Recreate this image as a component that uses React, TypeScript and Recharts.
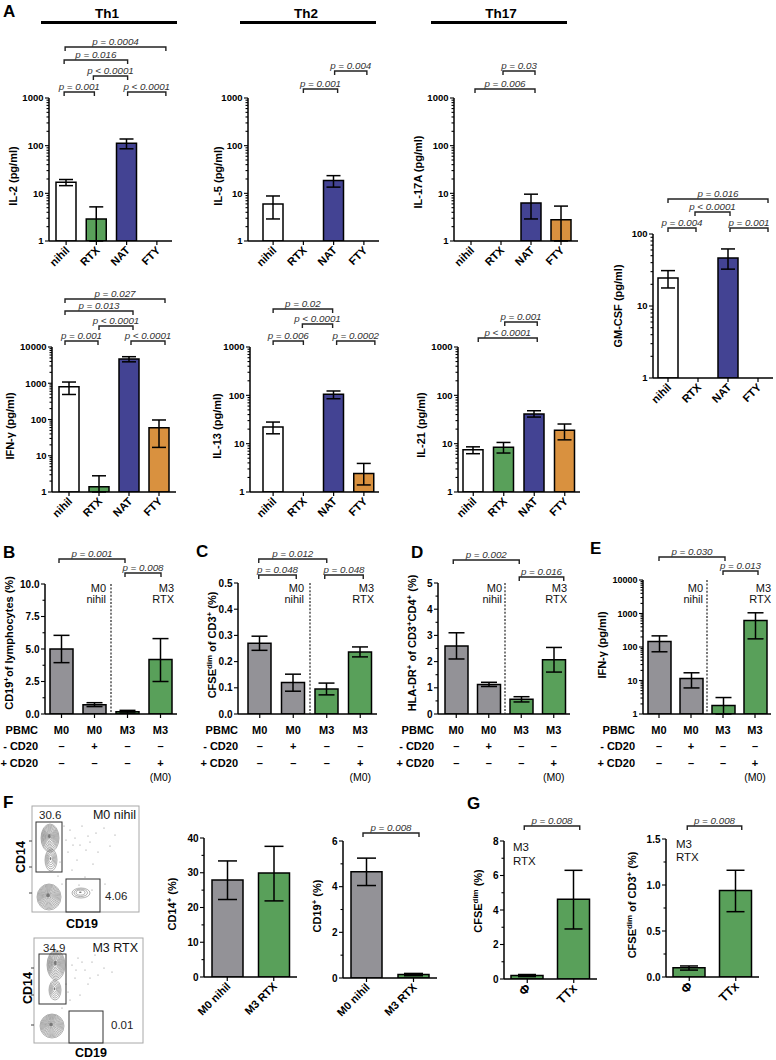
import React from 'react';
import { BarChart, Bar, XAxis, YAxis, ErrorBar, Cell } from 'recharts';

const FONT = '"Liberation Sans", Arial, Helvetica, sans-serif';
const C_WHITE = '#ffffff';
const C_GREEN = '#59a05a';
const C_NAVY = '#434393';
const C_ORANGE = '#d9913f';
const C_GRAY = '#939297';

// ---------- Panel A data ----------
const cytoCategories = ['nihil', 'RTX', 'NAT', 'FTY'];
const cytoColors = [C_WHITE, C_GREEN, C_NAVY, C_ORANGE];

const il2Mean = [17, 2.9, 112, null];
const il2Low = [14.5, 1, 86, null];
const il2High = [19.5, 5.2, 138, null];

const il5Mean = [6, null, 18.5, null];
const il5Low = [2.9, null, 13.5, null];
const il5High = [8.8, null, 23.5, null];

const il17Mean = [null, null, 6.3, 2.8];
const il17Low = [null, null, 2.9, 1];
const il17High = [null, null, 9.6, 5.4];

const gmcsfMean = [24.5, null, 46.5, null];
const gmcsfLow = [17.8, null, 32.5, null];
const gmcsfHigh = [31, null, 62, null];

const ifngMean = [800, 1.4, 4700, 59];
const ifngLow = [490, 1, 3900, 17];
const ifngHigh = [1080, 2.8, 5400, 97];

const il13Mean = [22, null, 105, 2.4];
const il13Low = [16, null, 85, 1.4];
const il13High = [28, null, 123, 3.9];

const il21Mean = [7.5, 8.4, 41, 19];
const il21Low = [6.2, 6.4, 35.5, 12];
const il21High = [8.6, 10.6, 48, 25.5];

// ---------- Panels B-E data ----------
const pbmcCategories = ['M0 a', 'M0 b', 'M3 a', 'M3 b'];
const pbmcColors = [C_GRAY, C_GRAY, C_GREEN, C_GREEN];
const pbmcRow = ['M0', 'M0', 'M3', 'M3'];
const minusCd20Row = ['–', '+', '–', '–'];
const plusCd20Row = ['–', '–', '–', '+'];
const plusNoteRow = ['', '', '', '(M0)'];

const cd19Mean = [5.0, 0.72, 0.18, 4.2];
const cd19Low = [3.95, 0.57, 0.08, 2.5];
const cd19High = [6.05, 0.87, 0.28, 5.8];

const cfseMean = [0.27, 0.12, 0.095, 0.237];
const cfseLow = [0.243, 0.087, 0.073, 0.218];
const cfseHigh = [0.297, 0.152, 0.118, 0.256];

const hladrMean = [2.6, 1.13, 0.56, 2.07];
const hladrLow = [2.1, 1.05, 0.46, 1.6];
const hladrHigh = [3.1, 1.21, 0.66, 2.54];

const ifngEMean = [145, 11.5, 1.8, 620];
const ifngELow = [72, 6, 1, 175];
const ifngEHigh = [215, 17, 3.1, 1050];

// ---------- Panel F data ----------
const fCategories = ['M0 nihil', 'M3 RTX'];
const fColors = [C_GRAY, C_GREEN];
const cd14Mean = [27.9, 29.9];
const cd14Low = [22.3, 21.9];
const cd14High = [33.4, 37.6];
const cd19fMean = [4.65, 0.15];
const cd19fLow = [4.05, 0.1];
const cd19fHigh = [5.25, 0.2];
const flowGateLabels = ['30.6', '4.06', '34.9', '0.01'];
const flowTitles = ['M0 nihil', 'M3 RTX'];

// ---------- Panel G data ----------
const gCategories = ['Φ', 'TTx'];
const gColors = [C_GREEN, C_GREEN];
const cfseDimMean = [0.2, 4.62];
const cfseDimLow = [0.14, 2.9];
const cfseDimHigh = [0.26, 6.3];
const cfseCd3Mean = [0.1, 0.94];
const cfseCd3Low = [0.075, 0.71];
const cfseCd3High = [0.12, 1.16];

// ---------- tick sets ----------
const logMinors = (maxExp: number) => {
  const out: number[] = [];
  for (let e = 0; e < maxExp; e++) for (let k = 2; k <= 9; k++) out.push(k * Math.pow(10, e));
  return out;
};
const LOG2_MAJ = [1, 10, 100];
const LOG3_MAJ = [1, 10, 100, 1000];
const LOG4_MAJ = [1, 10, 100, 1000, 10000];
const intFmt = (v: number) => String(Math.round(v));
const oneFmt = (v: number) => v.toFixed(1);

type Num = number | null;
interface ChartSpec {
  key: string;
  plotLeft: number; plotRight: number; plotTop: number; plotBottom: number;
  padL: number; padR: number;
  cats: string[]; colors: string[];
  mean: Num[]; low: Num[]; high: Num[];
  log: boolean; domain: [number, number];
  majors: number[]; minors: number[];
  fmt: (v: number) => string;
  barSize: number; cap: number;
  xMode: 'rot' | 'tick';
  tickFs: number; xFs: number;
}

const charts: ChartSpec[] = [
  { key: 'il2', plotLeft: 49, plotRight: 172, plotTop: 98, plotBottom: 241, padL: 2, padR: 0, cats: cytoCategories, colors: cytoColors, mean: il2Mean, low: il2Low, high: il2High, log: true, domain: [1, 1000], majors: LOG3_MAJ, minors: logMinors(3), fmt: intFmt, barSize: 20, cap: 7, xMode: 'rot', tickFs: 9.5, xFs: 11 },
  { key: 'il5', plotLeft: 248, plotRight: 379, plotTop: 98, plotBottom: 241, padL: 10, padR: 0, cats: cytoCategories, colors: cytoColors, mean: il5Mean, low: il5Low, high: il5High, log: true, domain: [1, 1000], majors: LOG3_MAJ, minors: logMinors(3), fmt: intFmt, barSize: 20, cap: 7, xMode: 'rot', tickFs: 9.5, xFs: 11 },
  { key: 'il17', plotLeft: 454, plotRight: 578, plotTop: 98, plotBottom: 241, padL: 2, padR: 2, cats: cytoCategories, colors: cytoColors, mean: il17Mean, low: il17Low, high: il17High, log: true, domain: [1, 1000], majors: LOG3_MAJ, minors: logMinors(3), fmt: intFmt, barSize: 20, cap: 7, xMode: 'rot', tickFs: 9.5, xFs: 11 },
  { key: 'gmcsf', plotLeft: 653, plotRight: 773, plotTop: 234, plotBottom: 378, padL: 0, padR: 0, cats: cytoCategories, colors: cytoColors, mean: gmcsfMean, low: gmcsfLow, high: gmcsfHigh, log: true, domain: [1, 100], majors: LOG2_MAJ, minors: logMinors(2), fmt: intFmt, barSize: 20, cap: 7, xMode: 'rot', tickFs: 9.5, xFs: 11 },
  { key: 'ifng', plotLeft: 52, plotRight: 176, plotTop: 347, plotBottom: 492, padL: 2, padR: 2, cats: cytoCategories, colors: cytoColors, mean: ifngMean, low: ifngLow, high: ifngHigh, log: true, domain: [1, 10000], majors: LOG4_MAJ, minors: logMinors(4), fmt: intFmt, barSize: 20, cap: 7, xMode: 'rot', tickFs: 9.5, xFs: 11 },
  { key: 'il13', plotLeft: 250, plotRight: 379, plotTop: 347, plotBottom: 492, padL: 8, padR: 0, cats: cytoCategories, colors: cytoColors, mean: il13Mean, low: il13Low, high: il13High, log: true, domain: [1, 1000], majors: LOG3_MAJ, minors: logMinors(3), fmt: intFmt, barSize: 20, cap: 7, xMode: 'rot', tickFs: 9.5, xFs: 11 },
  { key: 'il21', plotLeft: 458, plotRight: 580, plotTop: 347, plotBottom: 492, padL: 0, padR: 0, cats: cytoCategories, colors: cytoColors, mean: il21Mean, low: il21Low, high: il21High, log: true, domain: [1, 1000], majors: LOG3_MAJ, minors: logMinors(3), fmt: intFmt, barSize: 20, cap: 7, xMode: 'rot', tickFs: 9.5, xFs: 11 },
  { key: 'b', plotLeft: 45, plotRight: 177, plotTop: 584, plotBottom: 714, padL: 0, padR: 0, cats: pbmcCategories, colors: pbmcColors, mean: cd19Mean, low: cd19Low, high: cd19High, log: false, domain: [0, 10], majors: [0, 2.5, 5, 7.5, 10], minors: [1.25, 3.75, 6.25, 8.75], fmt: oneFmt, barSize: 23, cap: 8, xMode: 'tick', tickFs: 10, xFs: 11 },
  { key: 'c', plotLeft: 238, plotRight: 377, plotTop: 583, plotBottom: 714, padL: 5, padR: 0, cats: pbmcCategories, colors: pbmcColors, mean: cfseMean, low: cfseLow, high: cfseHigh, log: false, domain: [0, 0.5], majors: [0, 0.1, 0.2, 0.3, 0.4, 0.5], minors: [], fmt: oneFmt, barSize: 23, cap: 8, xMode: 'tick', tickFs: 10, xFs: 11 },
  { key: 'd', plotLeft: 438, plotRight: 570, plotTop: 583, plotBottom: 714, padL: 2, padR: 0, cats: pbmcCategories, colors: pbmcColors, mean: hladrMean, low: hladrLow, high: hladrHigh, log: false, domain: [0, 5], majors: [0, 1, 2, 3, 4, 5], minors: [0.5, 1.5, 2.5, 3.5, 4.5], fmt: intFmt, barSize: 23, cap: 8, xMode: 'tick', tickFs: 10, xFs: 11 },
  { key: 'e', plotLeft: 643, plotRight: 771, plotTop: 580, plotBottom: 714, padL: 0, padR: 0, cats: pbmcCategories, colors: pbmcColors, mean: ifngEMean, low: ifngELow, high: ifngEHigh, log: true, domain: [1, 10000], majors: LOG4_MAJ, minors: logMinors(4), fmt: intFmt, barSize: 23, cap: 8, xMode: 'tick', tickFs: 9, xFs: 11 },
  { key: 'f1', plotLeft: 204, plotRight: 297, plotTop: 838, plotBottom: 977, padL: 0, padR: 0, cats: fCategories, colors: fColors, mean: cd14Mean, low: cd14Low, high: cd14High, log: false, domain: [0, 40], majors: [0, 10, 20, 30, 40], minors: [5, 15, 25, 35], fmt: intFmt, barSize: 31, cap: 9.5, xMode: 'rot', tickFs: 10, xFs: 11 },
  { key: 'f2', plotLeft: 343, plotRight: 437, plotTop: 841, plotBottom: 978, padL: 0, padR: 0, cats: fCategories, colors: fColors, mean: cd19fMean, low: cd19fLow, high: cd19fHigh, log: false, domain: [0, 6], majors: [0, 2, 4, 6], minors: [1, 3, 5], fmt: intFmt, barSize: 31, cap: 9.5, xMode: 'rot', tickFs: 10, xFs: 11 },
  { key: 'g1', plotLeft: 504, plotRight: 597, plotTop: 841, plotBottom: 979, padL: 0, padR: 0, cats: gCategories, colors: gColors, mean: cfseDimMean, low: cfseDimLow, high: cfseDimHigh, log: false, domain: [0, 8], majors: [0, 2, 4, 6, 8], minors: [1, 3, 5, 7], fmt: intFmt, barSize: 32, cap: 9, xMode: 'rot', tickFs: 10, xFs: 12.5 },
  { key: 'g2', plotLeft: 666, plotRight: 759, plotTop: 839, plotBottom: 977, padL: 0, padR: 0, cats: gCategories, colors: gColors, mean: cfseCd3Mean, low: cfseCd3Low, high: cfseCd3High, log: false, domain: [0, 1.5], majors: [0, 0.5, 1, 1.5], minors: [0.25, 0.75, 1.25], fmt: oneFmt, barSize: 32, cap: 9, xMode: 'rot', tickFs: 10, xFs: 12.5 },
];
const chartByKey: Record<string, ChartSpec> = {};
charts.forEach((c) => { chartByKey[c.key] = c; });

const YW = 46, MT = 6, MR = 6, XH = 56;

function catX(s: ChartSpec, i: number) {
  const w = s.plotRight - s.plotLeft - s.padL - s.padR;
  return s.plotLeft + s.padL + (w / s.cats.length) * (i + 0.5);
}

const makeYTick = (s: ChartSpec) => (props: any) => {
  const { x, y, payload } = props;
  const v = payload.value;
  const isMajor = s.majors.some((m) => Math.abs(m - v) < 1e-9);
  const len = isMajor ? 4 : 2.5;
  return (
    <g>
      <line x1={x} x2={x - len} y1={y} y2={y} stroke="#000" strokeWidth={1.1} />
      {isMajor && (
        <text x={x - 5.5} y={y} dy="0.36em" textAnchor="end" fontFamily={FONT} fontWeight="bold" fontSize={s.tickFs} fill="#000">
          {s.fmt(v)}
        </text>
      )}
    </g>
  );
};

const makeXTick = (s: ChartSpec) => (props: any) => {
  const { x, y, payload } = props;
  const ax = x + 4;
  const ay = y + 10;
  return (
    <g>
      <line x1={x} x2={x} y1={y} y2={y + 4} stroke="#000" strokeWidth={1.2} />
      {s.xMode === 'rot' && (
        <text x={ax} y={ay} transform={`rotate(-45 ${ax} ${ay})`} textAnchor="end" fontFamily={FONT} fontWeight="bold" fontSize={s.xFs} fill="#000">
          {payload.value}
        </text>
      )}
    </g>
  );
};

function SmallBarChart({ s }: { s: ChartSpec }) {
  const width = s.plotRight - s.plotLeft + YW + MR;
  const height = s.plotBottom - s.plotTop + MT + XH;
  const data = s.cats.map((c, i) => {
    const m = s.mean[i];
    const lo = s.low[i];
    const hi = s.high[i];
    return { cat: c, v: m, err: m == null || lo == null || hi == null ? null : [m - lo, hi - m] };
  });
  const ticks = [...s.majors, ...s.minors].sort((a, b) => a - b);
  return (
    <div style={{ position: 'absolute', left: s.plotLeft - YW, top: s.plotTop - MT }}>
      <BarChart width={width} height={height} data={data} margin={{ top: MT, right: MR, left: 0, bottom: 0 }} barCategoryGap={0}>
        <XAxis dataKey="cat" type="category" height={XH} padding={{ left: s.padL, right: s.padR }} axisLine={{ stroke: '#000', strokeWidth: 1.5 }} tickLine={false} tickSize={0} tickMargin={0} interval={0} tick={makeXTick(s)} />
        <YAxis width={YW} type="number" scale={s.log ? 'log' : 'linear'} domain={s.domain} allowDataOverflow ticks={ticks} interval={0} axisLine={{ stroke: '#000', strokeWidth: 1.5 }} tickLine={false} tickSize={0} tickMargin={0} tick={makeYTick(s)} />
        <Bar dataKey="v" barSize={s.barSize} stroke="#000" strokeWidth={1.5} isAnimationActive={false}>
          {data.map((d, i) => (
            <Cell key={i} fill={s.colors[i]} />
          ))}
          <ErrorBar dataKey="err" width={s.cap} stroke="#000" strokeWidth={1.5} direction="y" isAnimationActive={false} />
        </Bar>
      </BarChart>
    </div>
  );
}

// ---------- annotations ----------
const brackets = [
  { c: 'il2', a: 0, b: 3, da: -1, db: 9, y: 47, t: 'p = 0.0004' },
  { c: 'il2', a: 0, b: 2, da: -2, db: 1, y: 60, t: 'p = 0.016' },
  { c: 'il2', a: 1, b: 2, da: -3, db: 1, y: 76, t: 'p < 0.0001' },
  { c: 'il2', a: 0, b: 1, da: -2, db: -2, y: 92, t: 'p = 0.001' },
  { c: 'il2', a: 2, b: 3, da: 1, db: 9, y: 92, t: 'p < 0.0001' },
  { c: 'il5', a: 1, b: 2, da: 0, db: 4, y: 89, t: 'p = 0.001' },
  { c: 'il5', a: 2, b: 3, da: 1, db: 3, y: 71, t: 'p = 0.004' },
  { c: 'il17', a: 0, b: 2, da: 4, db: 4, y: 89, t: 'p = 0.006' },
  { c: 'il17', a: 1, b: 2, da: 2, db: 4, y: 71, t: 'p = 0.03' },
  { c: 'gmcsf', a: 0, b: 3, da: 0, db: 10, y: 199, t: 'p = 0.016' },
  { c: 'gmcsf', a: 1, b: 2, da: -3, db: 2, y: 212, t: 'p < 0.0001' },
  { c: 'gmcsf', a: 0, b: 1, da: 0, db: -2, y: 228, t: 'p = 0.004' },
  { c: 'gmcsf', a: 2, b: 3, da: 2, db: 10, y: 228, t: 'p = 0.001' },
  { c: 'ifng', a: 0, b: 3, da: -4, db: 6, y: 299, t: 'p = 0.027' },
  { c: 'ifng', a: 0, b: 2, da: -4, db: 4, y: 311, t: 'p = 0.013' },
  { c: 'ifng', a: 1, b: 2, da: 0, db: 4, y: 326, t: 'p < 0.0001' },
  { c: 'ifng', a: 0, b: 1, da: -4, db: -1, y: 341, t: 'p = 0.001' },
  { c: 'ifng', a: 2, b: 3, da: 2, db: 6, y: 341, t: 'p < 0.0001' },
  { c: 'il13', a: 0, b: 2, da: 0, db: -1, y: 309, t: 'p = 0.02' },
  { c: 'il13', a: 1, b: 2, da: -1, db: -1, y: 324, t: 'p < 0.0001' },
  { c: 'il13', a: 0, b: 1, da: 0, db: 0, y: 341, t: 'p = 0.006' },
  { c: 'il13', a: 2, b: 3, da: 3, db: 11, y: 341, t: 'p = 0.0002' },
  { c: 'il21', a: 1, b: 2, da: 1, db: 3, y: 322, t: 'p = 0.001' },
  { c: 'il21', a: 0, b: 2, da: 5, db: 3, y: 338, t: 'p < 0.0001' },
  { c: 'b', a: 0, b: 2, da: -2.5, db: -2.5, y: 559, t: 'p = 0.001' },
  { c: 'b', a: 2, b: 3, da: -2.5, db: 0.5, y: 573, t: 'p = 0.008' },
  { c: 'c', a: 0, b: 2, da: -1, db: 0, y: 559, t: 'p = 0.012' },
  { c: 'c', a: 0, b: 1, da: -1, db: 3, y: 575, t: 'p = 0.048' },
  { c: 'c', a: 2, b: 3, da: -2, db: 3, y: 575, t: 'p = 0.048' },
  { c: 'd', a: 0, b: 2, da: -3, db: -2, y: 560, t: 'p = 0.002' },
  { c: 'd', a: 2, b: 3, da: -2, db: 10, y: 577, t: 'p = 0.016' },
  { c: 'e', a: 0, b: 2, da: 0, db: 2, y: 557, t: 'p = 0.030' },
  { c: 'e', a: 2, b: 3, da: 0, db: 3, y: 571, t: 'p = 0.013' },
  { c: 'f2', a: 0, b: 1, da: -3.5, db: 5.5, y: 833, t: 'p = 0.008' },
  { c: 'g1', a: 0, b: 1, da: -3, db: 6, y: 826, t: 'p = 0.008' },
  { c: 'g2', a: 0, b: 1, da: -2, db: 6, y: 826, t: 'p = 0.008' },
];

type Part = [string, boolean?];
const yLabels: { x: number; y: number; parts: Part[]; fs?: number }[] = [
  { x: 13, y: 176, parts: [['IL-2 (pg/ml)']] },
  { x: 218, y: 176, parts: [['IL-5 (pg/ml)']] },
  { x: 418, y: 172, parts: [['IL-17A (pg/ml)']] },
  { x: 618, y: 306, parts: [['GM-CSF (pg/ml)']] },
  { x: 10, y: 426, parts: [['IFN-γ (pg/ml)']] },
  { x: 217, y: 426, parts: [['IL-13 (pg/ml)']] },
  { x: 421, y: 425, parts: [['IL-21 (pg/ml)']] },
  { x: 9, y: 643, parts: [['CD19'], ['+', true], ['of lymphocytes (%)']] },
  { x: 212, y: 645, parts: [['CFSE'], ['dim', true], [' of CD3'], ['+', true], [' (%)']] },
  { x: 412, y: 643, parts: [['HLA-DR'], ['+', true], [' of CD3'], ['+', true], ['CD4'], ['+', true], [' (%)']] },
  { x: 602, y: 645, parts: [['IFN-γ (pg/ml)']] },
  { x: 172, y: 904, parts: [['CD14'], ['+', true], [' (%)']] },
  { x: 317, y: 906, parts: [['CD19'], ['+', true], [' (%)']] },
  { x: 478, y: 901, parts: [['CFSE'], ['dim', true], [' (%)']] },
  { x: 632, y: 905, parts: [['CFSE'], ['dim', true], [' of CD3'], ['+', true], [' (%)']] },
];

const panelLetters = [
  { t: 'A', x: 3, y: 17 },
  { t: 'B', x: 3, y: 558 },
  { t: 'C', x: 196, y: 557 },
  { t: 'D', x: 411, y: 558 },
  { t: 'E', x: 590, y: 554 },
  { t: 'F', x: 3, y: 808 },
  { t: 'G', x: 467, y: 809 },
];

const groupHeaders = [
  { t: 'Th1', cx: 107, x1: 41, x2: 177 },
  { t: 'Th2', cx: 306, x1: 240, x2: 376 },
  { t: 'Th17', cx: 501, x1: 431, x2: 567 },
];

const pbmcPanels = [
  { c: 'b', tableRight: 38, nihilRight: 106, rtxRight: 174 },
  { c: 'c', tableRight: 238, nihilRight: 304, rtxRight: 374 },
  { c: 'd', tableRight: 434, nihilRight: 502, rtxRight: 567 },
  { c: 'e', tableRight: 635, nihilRight: 703, rtxRight: 771 },
];

function YLabel({ x, y, parts, fs = 11 }: { x: number; y: number; parts: Part[]; fs?: number }) {
  const nodes: React.ReactNode[] = [];
  let prevSup = false;
  parts.forEach(([t, sup], i) => {
    if (sup) {
      nodes.push(<tspan key={i} dy={prevSup ? 0 : -fs * 0.38} fontSize={fs * 0.72}>{t}</tspan>);
      prevSup = true;
    } else {
      nodes.push(<tspan key={i} dy={prevSup ? fs * 0.38 : 0}>{t}</tspan>);
      prevSup = false;
    }
  });
  return (
    <text transform={`translate(${x + fs * 0.36},${y}) rotate(-90)`} textAnchor="middle" fontFamily={FONT} fontWeight="bold" fontSize={fs} fill="#000">
      {nodes}
    </text>
  );
}

function Brackets() {
  return (
    <g>
      {brackets.map((b, i) => {
        const s = chartByKey[b.c];
        const x1 = catX(s, b.a) + b.da;
        const x2 = catX(s, b.b) + b.db;
        return (
          <g key={i}>
            <path d={`M${x1},${b.y + 4} L${x1},${b.y} L${x2},${b.y} L${x2},${b.y + 4}`} fill="none" stroke="#222" strokeWidth={1.4} />
            <text x={(x1 + x2) / 2} y={b.y - 2.5} textAnchor="middle" fontFamily={FONT} fontStyle="italic" fontSize={9.8} fill="#333">
              {b.t}
            </text>
          </g>
        );
      })}
    </g>
  );
}

function PbmcAnnotations() {
  const rows = [pbmcRow, minusCd20Row, plusCd20Row];
  const rowLabels = ['PBMC', '- CD20', '+ CD20'];
  const rowY = [734, 750, 767];
  return (
    <g>
      {pbmcPanels.map((p) => {
        const s = chartByKey[p.c];
        const dx = (catX(s, 1) + catX(s, 2)) / 2;
        return (
          <g key={p.c}>
            <line x1={dx} x2={dx} y1={s.plotTop} y2={s.plotBottom} stroke="#222" strokeWidth={1.2} strokeDasharray="2 1.6" />
            <text x={p.nihilRight} y={592} textAnchor="end" fontFamily={FONT} fontSize={11} fill="#111">M0</text>
            <text x={p.nihilRight} y={602.5} textAnchor="end" fontFamily={FONT} fontSize={11} fill="#111">nihil</text>
            <text x={p.rtxRight} y={592} textAnchor="end" fontFamily={FONT} fontSize={11} fill="#111">M3</text>
            <text x={p.rtxRight} y={602.5} textAnchor="end" fontFamily={FONT} fontSize={11} fill="#111">RTX</text>
            {rowLabels.map((lab, r) => (
              <text key={'l' + r} x={p.tableRight} y={rowY[r]} textAnchor="end" fontFamily={FONT} fontWeight="bold" fontSize={11} fill="#000">{lab}</text>
            ))}
            {rows.map((row, r) =>
              row.map((v, i) => (
                <text key={`v${r}-${i}`} x={catX(s, i)} y={rowY[r]} textAnchor="middle" fontFamily={FONT} fontWeight="bold" fontSize={11} fill="#000">{v}</text>
              ))
            )}
            {plusNoteRow.map((v, i) => v ? (
              <text key={'n' + i} x={catX(s, i)} y={781} textAnchor="middle" fontFamily={FONT} fontSize={10.5} fill="#000">{v}</text>
            ) : null)}
          </g>
        );
      })}
    </g>
  );
}

// flow cytometry plots (decorative rendering of the gates and contours)
const flowPlots = [
  {
    box: [32, 806, 139, 912], gateA: [36, 822, 62, 872], gateB: [66, 879, 100, 912],
    numA: [39, 819], numB: [105, 900], title: [136, 819],
    clusters: [[50, 838, 9, 14, 10], [51, 860, 6, 11, 5], [49, 897, 12, 13, 11], [81, 893, 9, 5, 3]],
    dots: [[70, 830], [75, 838], [82, 826], [90, 842], [96, 833], [104, 828], [68, 852], [77, 860], [86, 850], [72, 870], [93, 864], [110, 846], [62, 884], [105, 884], [58, 876], [85, 877], [100, 818], [115, 835], [66, 840], [80, 845], [73, 845], [88, 836], [64, 826], [98, 852], [79, 885], [92, 890], [60, 862]],
    ylab: [20, 857], xlab: [82, 928],
    lticks: [841, 867, 893],
  },
  {
    box: [34, 938, 143, 1043], gateA: [39, 954, 66, 1004], gateB: [69, 1011, 103, 1043],
    numA: [43, 952], numB: [111, 1029], title: [138, 952],
    clusters: [[56, 965, 9, 15, 10], [55, 990, 6, 10, 5], [52, 1026, 12, 12, 11]],
    dots: [[72, 965], [78, 958], [85, 970], [92, 962], [98, 975], [88, 984], [75, 978], [104, 968], [68, 992], [80, 995], [95, 955], [112, 972], [62, 1008], [70, 1000], [82, 962], [90, 978], [76, 970], [66, 984]],
    ylab: [27, 988], xlab: [91, 1057],
    lticks: [968, 995, 1025],
  },
];

function FlowPlots() {
  return (
    <g>
      {flowPlots.map((f, k) => {
        const [bx1, by1, bx2, by2] = f.box;
        return (
          <g key={k}>
            <rect x={bx1} y={by1} width={bx2 - bx1} height={by2 - by1} fill="#fff" stroke="#a8a8a8" strokeWidth={1} />
            {f.lticks.map((ty, i) => (
              <line key={'t' + i} x1={bx1 - 3} x2={bx1} y1={ty} y2={ty} stroke="#444" strokeWidth={1} />
            ))}
            {f.dots.map(([x, y], i) => (
              <circle key={'d' + i} cx={x} cy={y} r={0.6} fill="#888" />
            ))}
            {f.clusters.map(([cx, cy, rx, ry, n], i) => (
              <g key={'c' + i}>
                {Array.from({ length: n }).map((_, j) => {
                  const sc = 1 - j / (n + 1);
                  return <ellipse key={j} cx={cx - (1 - sc) * rx * 0.1} cy={cy - (1 - sc) * ry * 0.15} rx={rx * sc} ry={ry * sc} fill="none" stroke="#707070" strokeWidth={0.55} />;
                })}
                <ellipse cx={cx - rx * 0.08} cy={cy - ry * 0.13} rx={rx * 0.15} ry={ry * 0.15} fill="#777" />
              </g>
            ))}
            <rect x={f.gateA[0]} y={f.gateA[1]} width={f.gateA[2] - f.gateA[0]} height={f.gateA[3] - f.gateA[1]} fill="none" stroke="#333" strokeWidth={1} />
            <rect x={f.gateB[0]} y={f.gateB[1]} width={f.gateB[2] - f.gateB[0]} height={f.gateB[3] - f.gateB[1]} fill="none" stroke="#333" strokeWidth={1} />
            <text x={f.numA[0]} y={f.numA[1]} fontFamily={FONT} fontSize={11.5} fill="#222">{flowGateLabels[k * 2]}</text>
            <text x={f.numB[0]} y={f.numB[1]} fontFamily={FONT} fontSize={11.5} fill="#222">{flowGateLabels[k * 2 + 1]}</text>
            <text x={f.title[0]} y={f.title[1]} textAnchor="end" fontFamily={FONT} fontSize={12.5} fill="#111">{flowTitles[k]}</text>
            <text transform={`translate(${f.ylab[0] + 4.5},${f.ylab[1]}) rotate(-90)`} textAnchor="middle" fontFamily={FONT} fontWeight="bold" fontSize={12.5} fill="#000">CD14</text>
            <text x={f.xlab[0]} y={f.xlab[1]} textAnchor="middle" fontFamily={FONT} fontWeight="bold" fontSize={12.5} fill="#000">CD19</text>
          </g>
        );
      })}
    </g>
  );
}

export default function App() {
  return (
    <div style={{ position: 'absolute', left: 0, top: 0, width: 776, height: 1060, background: '#fff', overflow: 'hidden', fontFamily: FONT }}>
      {charts.map((s) => (
        <SmallBarChart key={s.key} s={s} />
      ))}
      <svg width={776} height={1060} style={{ position: 'absolute', left: 0, top: 0, pointerEvents: 'none' }}>
        {panelLetters.map((l) => (
          <text key={l.t} x={l.x} y={l.y} fontFamily={FONT} fontWeight="bold" fontSize={17} fill="#000">{l.t}</text>
        ))}
        {groupHeaders.map((g) => (
          <g key={g.t}>
            <text x={g.cx} y={17.5} textAnchor="middle" fontFamily={FONT} fontWeight="bold" fontSize={13.5} fill="#000">{g.t}</text>
            <line x1={g.x1} x2={g.x2} y1={22.5} y2={22.5} stroke="#000" strokeWidth={3} />
          </g>
        ))}
        {yLabels.map((l, i) => (
          <YLabel key={i} x={l.x} y={l.y} parts={l.parts} fs={l.fs} />
        ))}
        <Brackets />
        <PbmcAnnotations />
        <FlowPlots />
        <text x={513} y={851} fontFamily={FONT} fontSize={11.5} fill="#111">M3</text>
        <text x={513} y={865} fontFamily={FONT} fontSize={11.5} fill="#111">RTX</text>
        <text x={676} y={848} fontFamily={FONT} fontSize={11.5} fill="#111">M3</text>
        <text x={676} y={861} fontFamily={FONT} fontSize={11.5} fill="#111">RTX</text>
      </svg>
    </div>
  );
}
